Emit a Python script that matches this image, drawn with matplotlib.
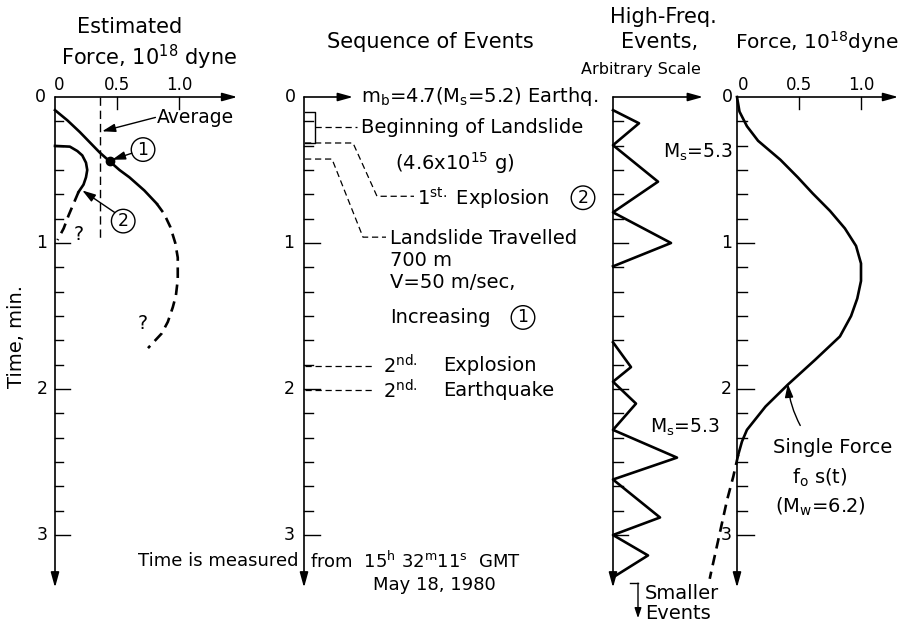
import matplotlib
matplotlib.use("Agg")
import matplotlib.pyplot as plt

plt.rcParams['font.family'] = ['DejaVu Sans']
plt.rcParams['mathtext.default'] = 'regular'

W, H = 901, 626
T0_PX, PX_PER_MIN, PX_PER_FORCE = 97, 146, 124
T_END = 3.36

# ---------------- data ----------------
# Left panel: estimated force (10^18 dyne) versus time (min)
f1_t_solid = [0.09, 0.16, 0.24, 0.31, 0.38, 0.44, 0.50, 0.55, 0.64, 0.73]
f1_f_solid = [0.00, 0.10, 0.20, 0.28, 0.36, 0.44, 0.52, 0.60, 0.72, 0.82]
f1_t_dash = [0.73, 0.80, 0.89, 1.00, 1.10, 1.25, 1.36, 1.44, 1.54, 1.62, 1.72]
f1_f_dash = [0.82, 0.88, 0.93, 0.97, 0.99, 0.99, 0.975, 0.95, 0.91, 0.86, 0.75]
dot_t, dot_f = 0.44, 0.44
f2_t_solid = [0.335, 0.34, 0.37, 0.40, 0.45, 0.50, 0.55, 0.60, 0.65]
f2_f_solid = [0.00, 0.12, 0.18, 0.22, 0.25, 0.26, 0.25, 0.23, 0.19]
f2_t_dash = [0.65, 0.73, 0.81, 0.90, 0.98]
f2_f_dash = [0.19, 0.15, 0.11, 0.07, 0.02]
average_force = 0.363
average_t_end = 0.99

# Middle panel: sequence of events (time, min)
landslide_begin = (0.10, 0.315)
explosion1_t = 0.315
explosion1_label_t = 0.68
travelled_t = 0.425
travelled_label_t = 0.96
explosion2_t = 1.84
earthquake2_t = 2.01

# High-frequency events (arbitrary amplitude)
hf1_t = [0.09, 0.18, 0.33, 0.58, 0.79, 1.00, 1.16]
hf1_a = [0, 26, 0, 45, 0, 58, 0]
hf2_t = [1.68, 1.85, 1.95, 2.10, 2.28, 2.47, 2.62, 2.88, 3.00, 3.14, 3.29]
hf2_a = [0, 18, 0, 23, 0, 64, 0, 47, 0, 35, 0]

# Right panel: single force f0 s(t)
sf_t_solid = [0, 0.10, 0.20, 0.30, 0.43, 0.55, 0.66, 0.78, 0.90, 1.02, 1.14,
              1.26, 1.38, 1.50, 1.64, 1.80, 1.97, 2.12, 2.28, 2.36, 2.45]
sf_f_solid = [0, 0.02, 0.08, 0.17, 0.35, 0.49, 0.61, 0.75, 0.87, 0.96, 1.0,
              1.0, 0.97, 0.92, 0.83, 0.63, 0.41, 0.23, 0.08, 0.04, 0.01]
sf_t_dash = [2.45, 2.60, 2.76, 3.03, 3.26, 3.30]
sf_f_dash = [0.01, -0.03, -0.08, -0.15, -0.21, -0.22]

force_ticks = [0.5, 1.0]
force_tick_labels = ['0.5', '1.0']
time_labels = ['1', '2', '3']

# ---------------- figure ----------------
fig = plt.figure(figsize=(W / 100, H / 100), dpi=100)

TMIN, TMAX = -0.7, 3.7


def panel(x0_px, xmin, xmax, px_per_x):
    left = x0_px + xmin * px_per_x
    width = (xmax - xmin) * px_per_x
    top = T0_PX + TMIN * PX_PER_MIN
    height = (TMAX - TMIN) * PX_PER_MIN
    ax = fig.add_axes([left / W, 1 - (top + height) / H, width / W, height / H])
    ax.set_xlim(xmin, xmax)
    ax.set_ylim(TMAX, TMIN)
    ax.axis('off')
    return ax


AX_LW = 1.2
CURVE_LW = 1.9
HEAD = '-|>,head_length=0.9,head_width=0.25'
SMALL_HEAD = '-|>,head_length=0.8,head_width=0.25'


def arrow(ax, start, end, lw=AX_LW, style=HEAD, **kw):
    ax.annotate('', xy=end, xytext=start,
                arrowprops=dict(arrowstyle=style, lw=lw, color='k',
                                shrinkA=0, shrinkB=0, **kw),
                annotation_clip=False)


def time_axis(ax, x_end, major_len, minor_len, px_per_x):
    arrow(ax, (0, 0), (0, T_END))
    arrow(ax, (0, 0), (x_end, 0))
    for k in range(1, 19):
        t = k / 6
        L = (major_len if k % 6 == 0 else minor_len) / px_per_x
        ax.plot([0, L], [t, t], color='k', lw=1.0, clip_on=False)


def force_ticks_draw(ax, label0_x):
    for v, lab in zip(force_ticks, force_tick_labels):
        ax.plot([v, v], [0, 12 / PX_PER_MIN], color='k', lw=1.0, clip_on=False)
        ax.text(v, -0.085, lab, ha='center', va='center', fontsize=12)
    ax.text(label0_x, -0.085, '0', ha='center', va='center', fontsize=12)


def circled(ax, x, y, s, fs=12.5):
    ax.text(x, y, s, ha='center', va='center', fontsize=fs,
            bbox=dict(boxstyle='circle,pad=0.16', fc='white', ec='k', lw=1.0))


TXT = 13.5
MID = 14
TITLE = 15

# ---- Left panel ----
axL = panel(55, -0.45, 1.5, PX_PER_FORCE)
time_axis(axL, 1.47, 15, 8, PX_PER_FORCE)
force_ticks_draw(axL, 0.03)
axL.text(-0.12, 0, '0', ha='center', va='center', fontsize=12.5)
for k, lab in enumerate(time_labels, start=1):
    axL.text(-0.105, k, lab, ha='center', va='center', fontsize=12.5)
axL.text(0.60, -0.48, 'Estimated', ha='center', va='center', fontsize=TITLE)
axL.text(0.76, -0.27, 'Force, 10$^{18}$ dyne', ha='center', va='center', fontsize=TITLE)
axL.text(-0.31, 1.64, 'Time, min.', ha='center', va='center', fontsize=14, rotation=90)

axL.plot(f1_f_solid, f1_t_solid, color='k', lw=CURVE_LW, clip_on=False)
axL.plot(f1_f_dash, f1_t_dash, color='k', lw=CURVE_LW, ls=(0, (4, 2.5)), clip_on=False)
axL.plot([dot_f], [dot_t], 'o', color='k', ms=6, clip_on=False)
axL.plot(f2_f_solid, f2_t_solid, color='k', lw=CURVE_LW, clip_on=False)
axL.plot(f2_f_dash, f2_t_dash, color='k', lw=CURVE_LW, ls=(0, (4, 2.5)), clip_on=False)
axL.plot([average_force, average_force], [0, average_t_end], color='k', lw=1.0,
         ls=(0, (6, 3.5)), clip_on=False)

axL.text(0.82, 0.137, 'Average', ha='left', va='center', fontsize=TXT)
arrow(axL, (0.81, 0.14), (0.38, 0.235), lw=1.0, style=SMALL_HEAD)
circled(axL, 0.71, 0.36, '1')
arrow(axL, (0.62, 0.385), (0.46, 0.43), lw=1.0, style=SMALL_HEAD)
circled(axL, 0.55, 0.85, '2')
arrow(axL, (0.48, 0.79), (0.22, 0.64), lw=1.0, style=SMALL_HEAD)
axL.text(0.19, 0.945, '?', ha='center', va='center', fontsize=TXT)
axL.text(0.71, 1.55, '?', ha='center', va='center', fontsize=TXT)

# ---- Middle panel ----
axM = panel(304, -170, 300, 1)
time_axis(axM, 49, 16, 9, 1)
axM.text(-14, 0, '0', ha='center', va='center', fontsize=12.5)
for k, lab in enumerate(time_labels, start=1):
    axM.text(-15, k, lab, ha='center', va='center', fontsize=12.5)
axM.text(126, -0.377, 'Sequence of Events', ha='center', va='center', fontsize=TITLE)
axM.text(57, 0.0, 'm$_b$=4.7(M$_s$=5.2) Earthq.', ha='left', va='center', fontsize=MID)

LEAD = dict(color='k', lw=0.9, ls=(0, (5, 3)), clip_on=False)
b0, b1 = landslide_begin
axM.plot([1, 11, 11, 1], [b0, b0, b1, b1], color='k', lw=1.0, clip_on=False)
bm = (b0 + b1) / 2
axM.plot([11, 53], [bm, bm], **LEAD)
axM.text(57, bm, 'Beginning of Landslide', ha='left', va='center', fontsize=MID)
axM.text(91, 0.45, '(4.6x10$^{15}$ g)', ha='left', va='center', fontsize=MID)

axM.plot([1, 49, 73, 110], [explosion1_t, explosion1_t, explosion1_label_t, explosion1_label_t], **LEAD)
axM.text(113, explosion1_label_t + 0.01, '1$^{st.}$ Explosion', ha='left', va='center', fontsize=MID)
circled(axM, 279, explosion1_label_t + 0.01, '2')

axM.plot([1, 28, 59, 82], [travelled_t, travelled_t, travelled_label_t, travelled_label_t], **LEAD)
axM.text(86, travelled_label_t + 0.01, 'Landslide Travelled', ha='left', va='center', fontsize=MID)
axM.text(86, 1.12, '700 m', ha='left', va='center', fontsize=MID)
axM.text(86, 1.27, 'V=50 m/sec,', ha='left', va='center', fontsize=MID)
axM.text(86, 1.51, 'Increasing', ha='left', va='center', fontsize=MID)
circled(axM, 219, 1.51, '1')

for tt, word in [(explosion2_t, 'Explosion'), (earthquake2_t, 'Earthquake')]:
    axM.plot([1, 68], [tt, tt], **LEAD)
    axM.text(79, tt, '2$^{nd.}$', ha='left', va='center', fontsize=MID)
    axM.text(139, tt, word, ha='left', va='center', fontsize=MID)

axM.text(-6, 3.18, 'Time is measured', ha='right', va='center', fontsize=13)
axM.text(6, 3.18, 'from  15$^h$ 32$^m$11$^s$  GMT', ha='left', va='center', fontsize=13)
axM.text(69, 3.34, 'May 18, 1980', ha='left', va='center', fontsize=13)

# ---- High-frequency panel ----
axF = panel(613, -20, 100, 1)
time_axis(axF, 90, 15, 10, 1)
axF.text(50, -0.55, 'High-Freq.', ha='center', va='center', fontsize=TITLE)
axF.text(47, -0.377, 'Events,', ha='center', va='center', fontsize=TITLE)
axF.text(28, -0.185, 'Arbitrary Scale', ha='center', va='center', fontsize=11.5)
axF.plot(hf1_a, hf1_t, color='k', lw=CURVE_LW, clip_on=False)
axF.plot(hf2_a, hf2_t, color='k', lw=CURVE_LW, clip_on=False)
axF.text(50, 0.38, 'M$_s$=5.3', ha='left', va='center', fontsize=TXT)
axF.text(37, 2.26, 'M$_s$=5.3', ha='left', va='center', fontsize=TXT)
axF.plot([17, 25], [3.33, 3.33], color='k', lw=1.0, clip_on=False)
arrow(axF, (25, 3.33), (25, 3.57), lw=1.0, style='-|>,head_length=0.6,head_width=0.2')
axF.text(32, 3.40, 'Smaller', ha='left', va='center', fontsize=14)
axF.text(32, 3.54, 'Events', ha='left', va='center', fontsize=14)

# ---- Right panel ----
axR = panel(737, -0.2, 1.32, PX_PER_FORCE)
time_axis(axR, 1.30, 17, 10, PX_PER_FORCE)
force_ticks_draw(axR, 0.05)
axR.text(-0.08, 0, '0', ha='center', va='center', fontsize=12.5)
for k, lab in enumerate(time_labels, start=1):
    axR.text(-0.085, k, lab, ha='center', va='center', fontsize=12.5)
axR.text(0.64, -0.377, 'Force, 10$^{18}$dyne', ha='center', va='center', fontsize=14.5)
axR.plot(sf_f_solid, sf_t_solid, color='k', lw=CURVE_LW, clip_on=False)
axR.plot(sf_f_dash, sf_t_dash, color='k', lw=CURVE_LW, ls=(0, (4, 2.5)), clip_on=False)
axR.text(0.77, 2.40, 'Single Force', ha='center', va='center', fontsize=14)
axR.text(0.67, 2.61, 'f$_o$ s(t)', ha='center', va='center', fontsize=14)
axR.text(0.67, 2.81, '(M$_w$=6.2)', ha='center', va='center', fontsize=14)
arrow(axR, (0.51, 2.25), (0.41, 1.965), lw=1.0,
      style=SMALL_HEAD, connectionstyle='arc3,rad=-0.1')

fig.savefig('out.png', dpi=100, facecolor='white')
